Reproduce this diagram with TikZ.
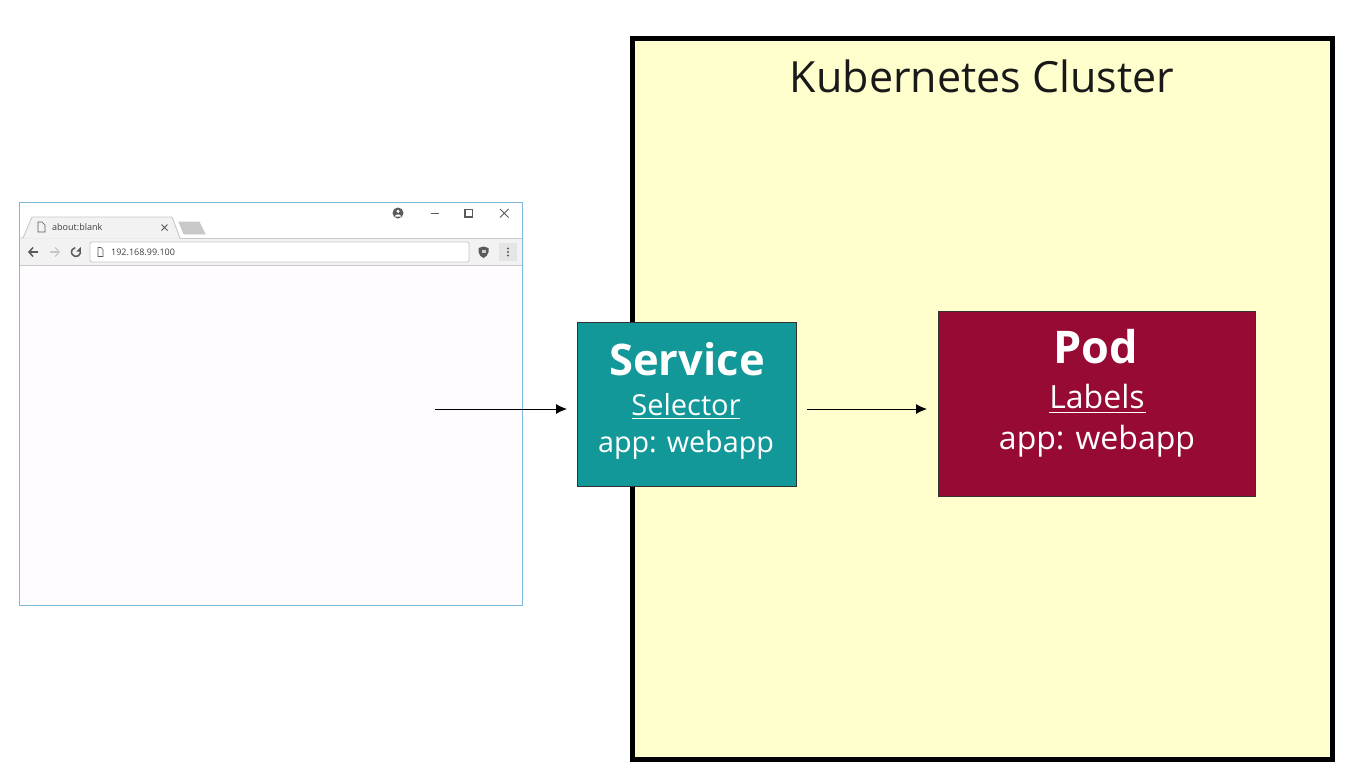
\documentclass[tikz,border=0pt]{standalone}
\usepackage{fontspec}
\setmainfont{Open Sans}
\usetikzlibrary{arrows.meta}
\definecolor{clusterfill}{HTML}{FFFFCD}
\definecolor{teal1}{HTML}{13989A}
\definecolor{wine}{HTML}{970A33}
\definecolor{winborder}{HTML}{7DB8E0}
\definecolor{pagefill}{HTML}{FEFCFE}
\definecolor{chromeline}{HTML}{C8C8C8}
\definecolor{chromefill}{HTML}{F2F2F2}
\definecolor{icon}{HTML}{5A5A5A}
\tikzset{
  px/.style={x=1pt,y=-1pt},
  cluster/.style={draw=black,line width=5pt,fill=clusterfill,outer sep=0pt,minimum width=700pt,minimum height=721pt,inner sep=0pt},
  box/.style={draw=black!80,line width=1pt,outer sep=0pt,inner sep=0pt,text=white},
  flow/.style={draw=black,line width=0.9pt,-{Latex[length=11pt,width=10pt]}},
  chrome/.style={draw=chromeline,line width=0.9pt},
  iconline/.style={draw=icon,line width=1pt},
  small/.style={inner sep=0pt,font=\fontsize{9}{9}\selectfont,text=black!75},
  lab/.style={inner sep=0pt,outer sep=0pt,anchor=base,text=white}
}
\begin{document}
\begin{tikzpicture}[px]
\useasboundingbox (0,0) rectangle (1355,782);
\fill[white] (0,0) rectangle (1355,782);
% cluster
\node[cluster,anchor=north west] (clusterbox) at (632,38) {};
\node[lab,text=black!90,font=\fontsize{43}{43}\selectfont] (clustertitle) at (982,92) {Kubernetes Cluster};
% browser window
\node[draw=winborder,line width=0.9pt,fill=pagefill,outer sep=0pt,minimum width=503pt,minimum height=403pt,inner sep=0pt,anchor=north west] (browser) at (19,202.5) {};
\fill[white] (19.5,203) rectangle (521.5,238);
\fill[chromefill] (19.5,238) rectangle (521.5,265);
% tab
\draw[chrome,fill=chromefill] (20,238) -- (23,238) -- (32,217) -- (172,217) -- (180,238) -- cycle;
\draw[chrome] (180,238) -- (521.5,238);
\fill[chromefill] (24,238.5) -- (33,218) -- (171,218) -- (179,238.5) -- cycle;
\draw[chrome,fill=chromeline] (179,222) -- (199,222) -- (205,234) -- (184,234) -- cycle;
\draw[chrome] (19.5,265.5) -- (521.5,265.5);
% tab icon and text
\draw[iconline,line width=0.7pt] (38,222) -- (42,222) -- (45,225) -- (45,232) -- (38,232) -- cycle;
\node[small,anchor=west] (tabtext) at (52,227.5) {about:blank};
\draw[iconline] (161.5,224.5) -- (167.5,230.5) (167.5,224.5) -- (161.5,230.5);
% nav icons
\draw[iconline,line width=1.5pt,-{Straight Barb[length=4pt,width=9pt]}] (38,252) -- (28,252);
\draw[draw=black!22,line width=1.2pt,-{Straight Barb[length=4pt,width=9pt]}] (50,252) -- (60,252);
\draw[iconline,line width=1.5pt] (79.9,249.75) arc (-30:260:4.5);
\fill[icon] (80.8,247) -- (80.8,251.5) -- (76.3,251.5) -- cycle;
% address bar
\node[draw=chromeline,line width=0.9pt,fill=white,rounded corners=1.5pt,outer sep=0pt,minimum width=379pt,minimum height=20pt,inner sep=0pt,anchor=north west] (addressbar) at (90,242) {};
\draw[iconline,line width=0.7pt] (98,247.5) -- (101,247.5) -- (103,249.5) -- (103,256.5) -- (98,256.5) -- cycle;
\node[small,anchor=west] (addresstext) at (111,252.3) {192.168.99.100};
% shield, menu
\fill[icon] (478.5,248) -- (483.5,246.5) -- (488.5,248) -- (488.5,252) .. controls (488,255) and (486,257) .. (483.5,258) .. controls (481,257) and (479,255) .. (478.5,252) -- cycle;
\fill[white!80!black] (481.5,250) rectangle (485.5,253);
\fill[black!10] (499,243) rectangle (517,261);
\foreach \yy in {248.5,252,255.5} \fill[icon] (508,\yy) circle (1.1);
% window controls
\fill[icon] (398,213) circle (5.5);
\fill[white] (398,211.3) circle (1.7);
\fill[white] (394.7,216.5) .. controls (395.5,213.8) and (400.5,213.8) .. (401.3,216.5) -- cycle;
\draw[iconline] (430.5,213.5) -- (438.5,213.5);
\draw[iconline,line width=1.2pt] (465,209.5) rectangle (472.5,217);
\draw[iconline] (500,209) -- (508.5,217.5) (508.5,209) -- (500,217.5);
% service
\node[box,fill=teal1,minimum width=218.5pt,minimum height=164pt,anchor=north west] (service) at (577.5,322) {};
\node[lab,font=\fontsize{43.5}{43.5}\selectfont\bfseries] (servicetitle) at (687,375) {Service};
\node[lab,font=\fontsize{29}{29}\selectfont] (selectortext) at (686,415) {Selector};
\draw[white,line width=1pt] (632,418) -- (740,418);
\node[lab,font=\fontsize{28.7}{28.7}\selectfont] (serviceapp) at (686,452.5) {app: webapp};
% pod
\node[box,fill=wine,minimum width=317.5pt,minimum height=185.5pt,anchor=north west] (pod) at (938,311) {};
\node[lab,font=\fontsize{45}{45}\selectfont\bfseries] (podtitle) at (1096,363.5) {Pod};
\node[lab,font=\fontsize{32}{32}\selectfont] (labelstext) at (1097,408) {Labels};
\draw[white,line width=1pt] (1049,412) -- (1146,412);
\node[lab,font=\fontsize{32}{32}\selectfont] (podapp) at (1097,449) {app: webapp};
% connectors
\coordinate (browserout) at (435,409);
\coordinate (servicein) at (567,409);
\coordinate (serviceout) at (807,409);
\coordinate (podin) at (927,409);
\draw[flow] (browserout) -- (servicein);
\draw[flow] (serviceout) -- (podin);
\end{tikzpicture}
\end{document}
